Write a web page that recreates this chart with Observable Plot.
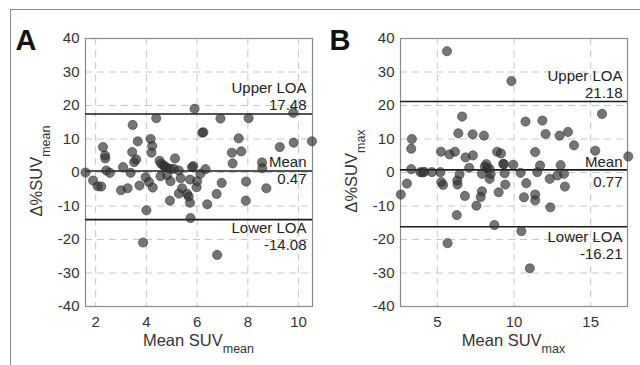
<!DOCTYPE html>
<html>
<head>
<meta charset="utf-8">
<script src="https://cdn.jsdelivr.net/npm/d3@7"></script>
<script src="https://cdn.jsdelivr.net/npm/@observablehq/plot@0.6"></script>
<style>
  html, body { margin: 0; padding: 0; background: #fff; }
  #wrap { position: relative; width: 640px; height: 365px; overflow: hidden; background: #fff;
          font-family: "Liberation Sans", Arial, Helvetica, sans-serif; }
  #border { position: absolute; left: 10px; top: 9px; width: 700px; height: 400px;
            border-left: 1.5px solid #8a8a8a; border-top: 1.5px solid #8a8a8a; }
  .panel { position: absolute; top: 0; }
</style>
</head>
<body>
<div id="wrap"><div id="border"></div></div>
<script>
// ---------- data ----------
// Panel A: mean SUVmean vs Δ%SUVmean
const xA = [1.6, 1.9, 2.08, 2.22, 2.29, 2.37, 2.38, 2.42, 2.56, 3.0, 3.08, 3.26, 3.38, 3.46, 3.44, 3.52, 3.6, 3.66, 3.73, 3.87,
            4.0, 3.97, 4.1, 4.17, 4.23, 4.2, 4.25, 4.39, 4.52, 4.58, 4.56, 4.68, 4.72, 4.8, 4.82, 4.93, 4.95, 4.95, 5.08, 5.13,
            5.28, 5.28, 5.35, 5.41, 5.61, 5.67, 5.72, 5.72, 5.74, 5.8, 5.85, 5.9, 5.98, 6.0, 6.13, 6.2, 6.25, 6.33, 6.4, 6.77,
            6.79, 6.92, 6.97, 7.37, 7.4, 7.64, 7.74, 7.92, 7.93, 8.03, 8.56, 8.57, 8.73, 9.26, 9.79, 9.81, 10.53];
const yA = [0.0, -2.4, -4.1, -4.2, 7.6, 5.1, 4.2, 0.6, -0.1, -5.3, 1.6, -4.7, -0.1, 14.2, 6.1, 3.1, 3.9, 9.3, -3.9, -20.9,
            -11.3, -1.4, -2.8, 10.0, 7.9, 5.9, -4.5, 16.2, 3.5, 2.6, -1.1, 2.1, 1.8, 1.5, -0.8, -8.4, 1.1, -2.6, 1.1, 4.2,
            0.6, -6.3, -1.7, -4.7, -6.4, -7.2, -9.0, -2.1, -13.6, 1.6, 1.9, 19.0, -4.4, -2.6, -0.4, 11.9, 12.0, 1.0, -9.5, -6.4,
            -24.6, 16.1, -3.1, 5.9, 2.7, 10.2, 6.3, -8.4, -2.7, 16.2, 3.0, 1.3, -4.7, 7.6, 17.8, 8.9, 9.3];
// Panel B: mean SUVmax vs Δ%SUVmax
const xB = [2.62, 3.02, 3.3, 3.3, 3.34, 3.9, 4.05, 4.15, 4.65, 5.2, 5.26, 5.38, 5.24, 5.63, 5.67, 5.8, 6.15, 6.27, 6.3, 6.32,
            6.37, 6.45, 6.62, 6.8, 6.84, 7.08, 7.3, 7.32, 7.55, 7.83, 7.91, 7.91, 8.04, 8.1, 8.25, 8.4, 8.2, 8.41, 8.48, 8.72,
            8.9, 9.0, 9.15, 9.34, 9.3, 9.39, 9.43, 9.83, 9.95, 10.43, 10.48, 10.65, 10.75, 10.8, 11.03, 11.38, 11.38, 11.38, 11.52, 11.7,
            11.85, 12.06, 12.33, 12.37, 12.83, 12.97, 13.04, 13.26, 13.32, 13.52, 13.91, 15.3, 15.74, 17.45];
const yB = [-6.6, -3.3, 1.0, 7.1, 10.0, 0.1, 0.0, 0.2, 0.1, 0.1, -2.9, -3.7, 6.2, 36.2, -21.1, 5.4, 6.2, -12.7, -2.4, -3.6,
            11.7, -0.6, 16.7, -7.0, 4.5, 1.4, 11.4, 5.1, -9.9, -7.3, -5.6, -0.4, 11.0, 1.8, 1.4, 1.1, 2.5, -1.9, -0.4, -15.7,
            6.2, -5.9, 5.7, 2.5, 2.6, -0.2, -3.6, 27.3, 2.3, -0.1, -17.5, -7.4, 15.2, -3.2, -28.6, 6.1, -6.6, -8.3, 0.1, 2.1,
            15.5, 11.5, -1.9, -10.4, -0.9, 11.0, 2.2, -0.4, -4.2, 12.1, 8.1, 6.5, 17.5, 4.8];
const loaLabels = ["Upper LOA", "Mean", "Lower LOA"];
const loaA = [17.48, 0.47, -14.08];
const loaB = [21.18, 0.77, -16.21];
const yTicks = [-40, -30, -20, -10, 0, 10, 20, 30, 40];
const xTicksA = [2, 4, 6, 8, 10];
const xTicksB = [5, 10, 15];
const panels = [
  {letter: "A", xs: xA, ys: yA, loa: loaA, xTicks: xTicksA, xDomain: [1.6, 10.55], sub: "mean",
   left: 0, mL: 85, mR: 8, labelDy: [-25.5, -8.5, 9], valueDy: [-8.3, 8.6, 26], dx: -6},
  {letter: "B", xs: xB, ys: yB, loa: loaB, xTicks: xTicksB, xDomain: [2.6, 17.4], sub: "max",
   left: 320, mL: 80, mR: 13, labelDy: [-25.5, -7.5, 10], valueDy: [-8.5, 12, 27], dx: -5}
];

const FONT = '"Liberation Sans", Arial, Helvetica, sans-serif';
const wrap = document.getElementById("wrap");

for (const p of panels) {
  const pts = p.xs.map((x, i) => ({x, y: p.ys[i]}));
  const textMarks = [];
  p.loa.forEach((v, i) => {
    textMarks.push(Plot.text([v], {y: d => d, text: () => loaLabels[i], frameAnchor: "right",
      textAnchor: "end", dx: p.dx, dy: p.labelDy[i], fontSize: 15, fill: "#222"}));
    textMarks.push(Plot.text([v], {y: d => d, text: d => d.toFixed(2), frameAnchor: "right",
      textAnchor: "end", dx: p.dx, dy: p.valueDy[i], fontSize: 15, fill: "#222"}));
  });
  const svg = Plot.plot({
    width: 320, height: 365,
    marginLeft: p.mL, marginRight: p.mR, marginTop: 38, marginBottom: 59,
    style: {fontFamily: FONT, fontSize: "15px", color: "#333", background: "transparent", overflow: "visible"},
    x: {domain: p.xDomain, ticks: p.xTicks, tickSize: 0, tickPadding: 10, label: null, tickFormat: d => String(d)},
    y: {domain: [-40, 40], ticks: yTicks, tickSize: 0, tickPadding: 6, label: null, tickFormat: d => String(d)},
    marks: [
      Plot.ruleX(p.xTicks, {stroke: "#c8c8c8", strokeDasharray: "7,5", strokeWidth: 1}),
      Plot.ruleY(yTicks, {stroke: "#c8c8c8", strokeDasharray: "7,5", strokeWidth: 1}),
      Plot.frame({stroke: "#8a8a8a", strokeWidth: 1.2}),
      Plot.ruleY(p.loa, {stroke: "#1a1a1a", strokeWidth: 1.6}),
      Plot.dot(pts, {x: "x", y: "y", r: 4.6, fill: "#333", fillOpacity: 0.68,
                     stroke: "#222", strokeOpacity: 0.55, strokeWidth: 0.9}),
      ...textMarks
    ]
  });
  svg.classList.add("panel");
  svg.style.left = p.left + "px";
  const s = d3.select(svg);
  const plotL = p.mL, plotR = 320 - p.mR;
  // panel letter
  s.append("text").attr("x", p.letter === "A" ? 26 : 20).attr("y", 50)
    .attr("font-family", FONT).attr("font-weight", "bold").attr("font-size", 29).attr("fill", "#111")
    .text(p.letter);
  // x-axis title
  const xt = s.append("text").attr("x", (plotL + plotR) / 2).attr("y", 346)
    .attr("text-anchor", "middle").attr("font-family", FONT).attr("font-size", 16.5).attr("fill", "#333");
  xt.append("tspan").text("Mean SUV");
  xt.append("tspan").attr("dy", 7).attr("font-size", 12.5).text(p.sub);
  // y-axis title
  const yt = s.append("text").attr("transform", `translate(${plotL - 43},171) rotate(-90)`)
    .attr("text-anchor", "middle").attr("font-family", FONT).attr("font-size", 16.5).attr("fill", "#333");
  yt.append("tspan").text("\u0394%SUV");
  yt.append("tspan").attr("dy", 7.5).attr("font-size", 12.5).text(p.sub);
  wrap.appendChild(svg);
}
</script>
</body>
</html>
